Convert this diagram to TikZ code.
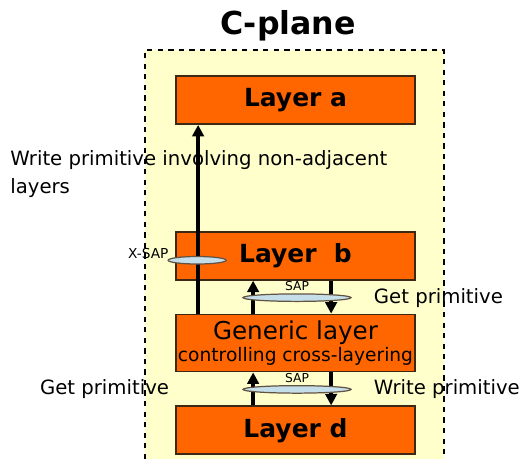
\documentclass[tikz,border=0pt]{standalone}
\usepackage{fontspec}
\setmainfont{DejaVu Sans}
\usepackage{tikz}
\usetikzlibrary{shapes.geometric, arrows.meta, positioning, calc}
\definecolor{clrPlane}{RGB}{255,255,204}
\definecolor{clrLayer}{RGB}{255,102,0}
\definecolor{clrEdge}{RGB}{60,40,20}
\definecolor{clrSap}{RGB}{196,222,234}

\begin{document}
\begin{tikzpicture}[
  node distance=0.66cm,
  layer/.style={rectangle, draw=clrEdge, fill=clrLayer, line width=1pt,
                minimum width=4.78cm, minimum height=0.96cm,
                text centered, inner sep=0pt},
  title/.style={layer, font=\bfseries\fontsize{14.2}{16}\selectfont},
  sap/.style={ellipse, draw=clrEdge!80, fill=clrSap, line width=0.7pt,
              minimum height=0.15cm, inner sep=0pt},
  saplbl/.style={font=\fontsize{7}{8}\selectfont, inner sep=1pt},
  prim/.style={font=\fontsize{11.2}{13}\selectfont, inner sep=0pt},
  arr/.style={-{Triangle[length=6.5pt,width=6.5pt]}, line width=2.2pt}
]
\useasboundingbox (0,0) rectangle (10.4,-9.18);

% control plane background, open at the bottom
\fill[clrPlane] (2.9,-1.0) rectangle (8.88,-9.18);
\draw[dashed, line width=0.9pt] (2.9,-9.18) -- (2.9,-1.0) -- (8.88,-1.0) -- (8.88,-9.18);
\node[font=\bfseries\fontsize{18}{20}\selectfont] (plane) at (5.76,-0.52) {C-plane};

\node[title] (la) at (5.91,-2.0) {Layer a};
\node[title, below=2.12cm of la] (lb) {Layer\ \ b};
\node[layer, below=of lb, minimum height=1.14cm, align=center] (gen)
      {{\fontsize{14}{15}\selectfont Generic layer}\\[1pt]
       {\fontsize{10.6}{12}\selectfont controlling cross-layering}};
\node[title, below=of gen] (ld) {Layer d};

% non-adjacent write
\draw[arr] ([xshift=0.46cm]gen.north west) -- ([xshift=0.46cm]la.south west);
\node[sap, minimum width=1.16cm] (xsap) at ($(lb.west)+(0.44cm,-0.09cm)$) {};
\node[saplbl, font=\fontsize{7.8}{9}\selectfont, left=-0.06cm of xsap, yshift=0.14cm]
      (xsaplbl) {X-SAP};

% SAP between layer b and the generic layer
\draw[arr] ([xshift=1.56cm]gen.north west) -- ([xshift=1.56cm]lb.south west);
\draw[arr] ([xshift=3.12cm]lb.south west) -- ([xshift=3.12cm]gen.north west);
\node[sap, minimum width=2.16cm] (sapb) at ($(lb.south)!0.5!(gen.north)+(0.03cm,-0.01cm)$) {};
\node[saplbl, above=0pt of sapb] (sapblbl) {SAP};

% SAP between the generic layer and layer d
\draw[arr] ([xshift=1.56cm]ld.north west) -- ([xshift=1.56cm]gen.south west);
\draw[arr] ([xshift=3.12cm]gen.south west) -- ([xshift=3.12cm]ld.north west);
\node[sap, minimum width=2.16cm] (sapd) at ($(gen.south)!0.5!(ld.north)+(0.03cm,-0.01cm)$) {};
\node[saplbl, above=0pt of sapd] (sapdlbl) {SAP};

% primitives
\node[prim, anchor=north west, align=left] (nonadj) at (0.2,-3.0)
      {Write primitive involving non-adjacent\\[3pt]layers};
\node[prim, right=0.44cm of sapb, anchor=west] (getb) {Get primitive};
\node[prim, right=0.44cm of sapd, anchor=west] (writed) {Write primitive};
\node[prim, anchor=east] (getd) at ($(sapd.west)+(-1.46cm,0)$) {Get primitive};

\end{tikzpicture}
\end{document}
